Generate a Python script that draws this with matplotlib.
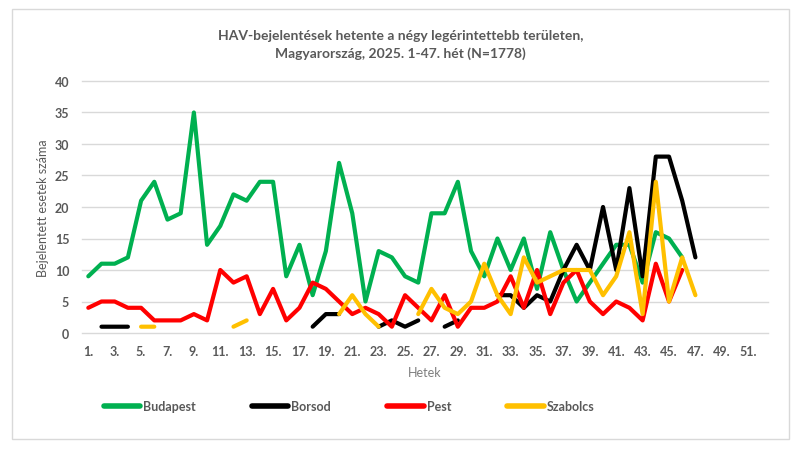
import numpy as np
import matplotlib.pyplot as plt
from matplotlib.patches import Rectangle

nan = np.nan

WEEKS = list(range(1, 53))
TICK_WEEKS = list(range(1, 52, 2))
TICK_LABELS = [f'{w}.' for w in TICK_WEEKS]

# weekly counts, week 1-47 (nan = no case / no point)
budapest = [9, 11, 11, 12, 21, 24, 18, 19, 35, 14,
            17, 22, 21, 24, 24, 9, 14, 6, 13, 27,
            19, 5, 13, 12, 9, 8, 19, 19, 24, 13,
            9, 15, 10, 15, 7, 16, 10, 5, 8, 11,
            14, 14, 8, 16, 15, 12, nan]
borsod = [nan, 1, 1, 1, nan, nan, nan, nan, nan, nan,
          nan, nan, nan, nan, nan, nan, nan, 1, 3, 3,
          nan, nan, 1, 2, 1, 2, nan, 1, 2, nan,
          nan, 6, 6, 4, 6, 5, 10, 14, 10, 20,
          10, 23, 9, 28, 28, 21, 12]
pest = [4, 5, 5, 4, 4, 2, 2, 2, 3, 2,
        10, 8, 9, 3, 7, 2, 4, 8, 7, 5,
        3, 4, 3, 1, 6, 4, 2, 6, 1, 4,
        4, 5, 9, 4, 10, 3, 8, 10, 5, 3,
        5, 4, 2, 11, 5, 10, nan]
szabolcs = [nan, nan, nan, nan, 1, 1, nan, nan, nan, nan,
            nan, 1, 2, nan, nan, nan, nan, nan, nan, 3,
            6, 3, 1, nan, nan, 3, 7, 4, 3, 5,
            11, 6, 3, 12, 8, 9, 10, 10, 10, 6,
            9, 16, 3, 24, 5, 12, 6]

SERIES = ['Budapest', 'Borsod', 'Pest', 'Szabolcs']
COLORS = ['#00B050', '#000000', '#FF0000', '#FFC000']

TITLE = 'HAV-bejelentések hetente a négy legérintettebb területen,\nMagyarország, 2025. 1-47. hét (N=1778)'
GREY = '#595959'

plt.rcParams['font.family'] = ['Lato', 'DejaVu Sans']

def pad(values):
    return list(values) + [nan] * (len(WEEKS) - len(values))

fig = plt.figure(figsize=(8, 4.56), dpi=100)
ax = fig.add_axes([81.7 / 800, 1 - 334 / 456, (768 - 81.7) / 800, (334 - 82) / 456])

for name, values, color in zip(SERIES, [budapest, borsod, pest, szabolcs], COLORS):
    ax.plot(WEEKS, pad(values), color=color, lw=3, label=name,
            solid_capstyle='round', solid_joinstyle='round')

ax.set_xlim(0.5, 52.5)
ax.set_ylim(0, 40)
ax.set_yticks(range(0, 41, 5))
ax.set_xticks(TICK_WEEKS)
ax.set_xticklabels(TICK_LABELS)
ax.tick_params(length=0, labelsize=9, labelcolor=GREY, pad=9)
for lab in ax.get_xticklabels() + ax.get_yticklabels():
    lab.set_fontweight('bold')
ax.grid(axis='y', color='#D9D9D9', lw=1)
ax.set_axisbelow(True)
for line in ax.get_ygridlines():
    line.set_clip_on(False)
for s in ax.spines.values():
    s.set_visible(False)

ax.set_xlabel('Hetek', color='#7F7F7F', fontsize=9, labelpad=6)
ax.set_ylabel('Bejelentett esetek száma', color=GREY, fontsize=9, labelpad=4)

fig.text(0.501, 1 - 45 / 456, TITLE, ha='center', va='center', fontsize=10,
         color=GREY, fontweight='bold', linespacing=1.45)

leg = fig.legend(loc='center', bbox_to_anchor=(349 / 800, 1 - 407 / 456), ncol=4,
                 frameon=False, fontsize=9, handlelength=2.9, handletextpad=0.25,
                 columnspacing=4.5)
for t in leg.get_texts():
    t.set_color(GREY)
    t.set_fontweight('bold')
for h in leg.get_lines():
    h.set_linewidth(4)

fig.patches.append(Rectangle((12 / 800, 1 - 440 / 456), 777 / 800, 430 / 456,
                             transform=fig.transFigure, fill=False,
                             edgecolor='#D9D9D9', lw=1))

plt.savefig('out.png', dpi=100)
plt.close()
